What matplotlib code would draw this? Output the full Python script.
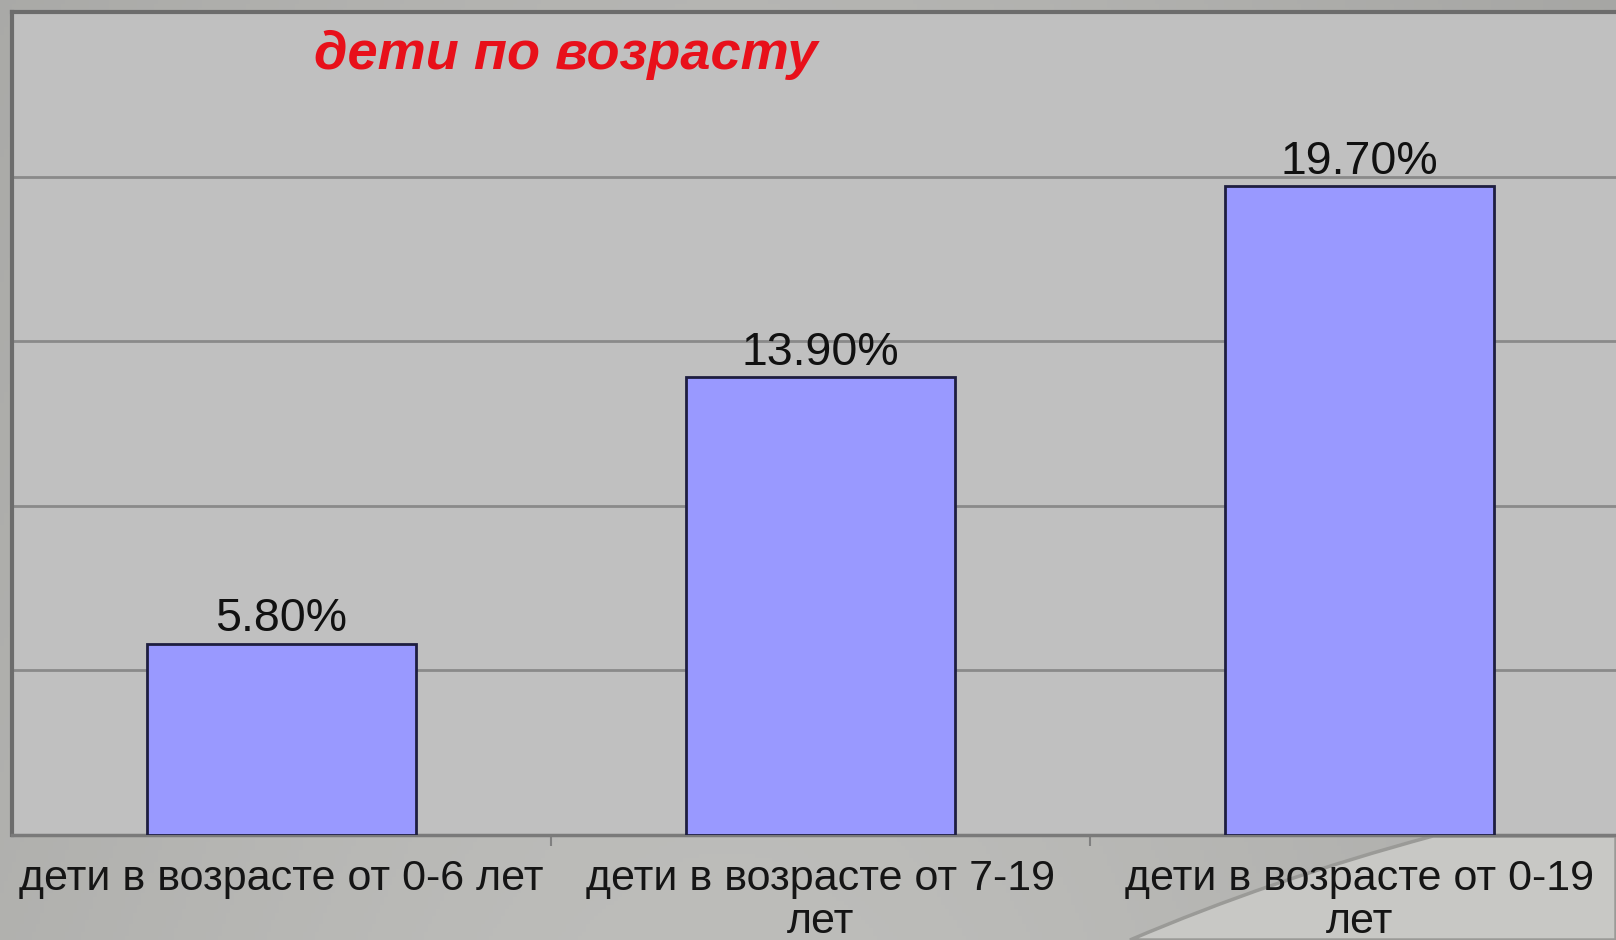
import numpy as np
import matplotlib
matplotlib.use('Agg')
import matplotlib.pyplot as plt
from matplotlib.path import Path
from matplotlib.patches import PathPatch

# ****************************** Data ****************************** #
categories = ['дети в возрасте от 0-6 лет',
              'дети в возрасте от 7-19\nлет',
              'дети в возрасте от 0-19\nлет']
shares = [5.8, 13.9, 19.7]
value_labels = ['5.80%', '13.90%', '19.70%']
title = 'дети по возрасту'

plt.rcParams['font.family'] = ['Liberation Sans', 'DejaVu Sans']

W, H = 1616, 940
fig = plt.figure(figsize=(W / 100, H / 100), dpi=100)

# slide background: grey gradient, lighter to the bottom middle
bg = fig.add_axes([0, 0, 1, 1], zorder=-10)
gx, gy = np.meshgrid(np.linspace(0, 1, 400), np.linspace(0, 1, 240))
shade = 0.63 + 0.08 * np.exp(-((gx - 0.45) ** 2) / 0.25) + 0.03 * gy
bg.imshow(np.dstack([shade, shade, shade * 0.985]), extent=[0, W, 0, H],
          aspect='auto', origin='lower')
bg.set_xlim(0, W)
bg.set_ylim(H, 0)
bg.axis('off')

# decorative swoosh in the lower right corner
verts = [(1130, 940), (1270, 880), (1433, 836), (1616, 836), (1616, 940), (1130, 940)]
codes = [Path.MOVETO, Path.CURVE3, Path.CURVE3, Path.LINETO, Path.LINETO, Path.CLOSEPOLY]
bg.add_patch(PathPatch(Path(verts, codes), facecolor='#c8c8c5', edgecolor='#9a9a97', lw=2.5))

# ****************************** Chart ****************************** #
ax = fig.add_axes([12 / W, 105 / H, 1617 / W, 823 / H])
ax.set_facecolor('#c0c0c0')
x = np.arange(len(categories))
bars = ax.bar(x, shares, width=0.5, color='#9999ff', edgecolor='#1e1e40', lw=2, zorder=3)
ax.bar_label(bars, labels=value_labels, padding=2, fontsize=33.5, color='#111111')

ax.set_xlim(-0.5, 2.5)
ax.set_ylim(0, 25)
ax.set_yticks(np.arange(0, 26, 5))
ax.yaxis.grid(True, color='#8a8a8a', lw=2)
ax.set_axisbelow(True)
ax.tick_params(axis='y', length=0, labelleft=False)

ax.set_xticks(x)
ax.set_xticklabels(categories, fontsize=31, color='#151515', linespacing=1.12)
ax.tick_params(axis='x', length=0, pad=17)
ax.set_xticks([0.5, 1.5], minor=True)
ax.tick_params(axis='x', which='minor', length=8, width=1.5, color='#808080')

for s in ['left', 'top']:
    ax.spines[s].set_color('#6c6c6c')
    ax.spines[s].set_linewidth(3)
ax.spines['bottom'].set_color('#7a7a7a')
ax.spines['bottom'].set_linewidth(2.5)
ax.spines['right'].set_visible(False)

fig.text(566 / W, 1 - 55 / H, title, color='#e8101a', fontsize=39,
         fontweight='bold', fontstyle='italic', ha='center', va='center')

fig.savefig('out.png', dpi=100)
